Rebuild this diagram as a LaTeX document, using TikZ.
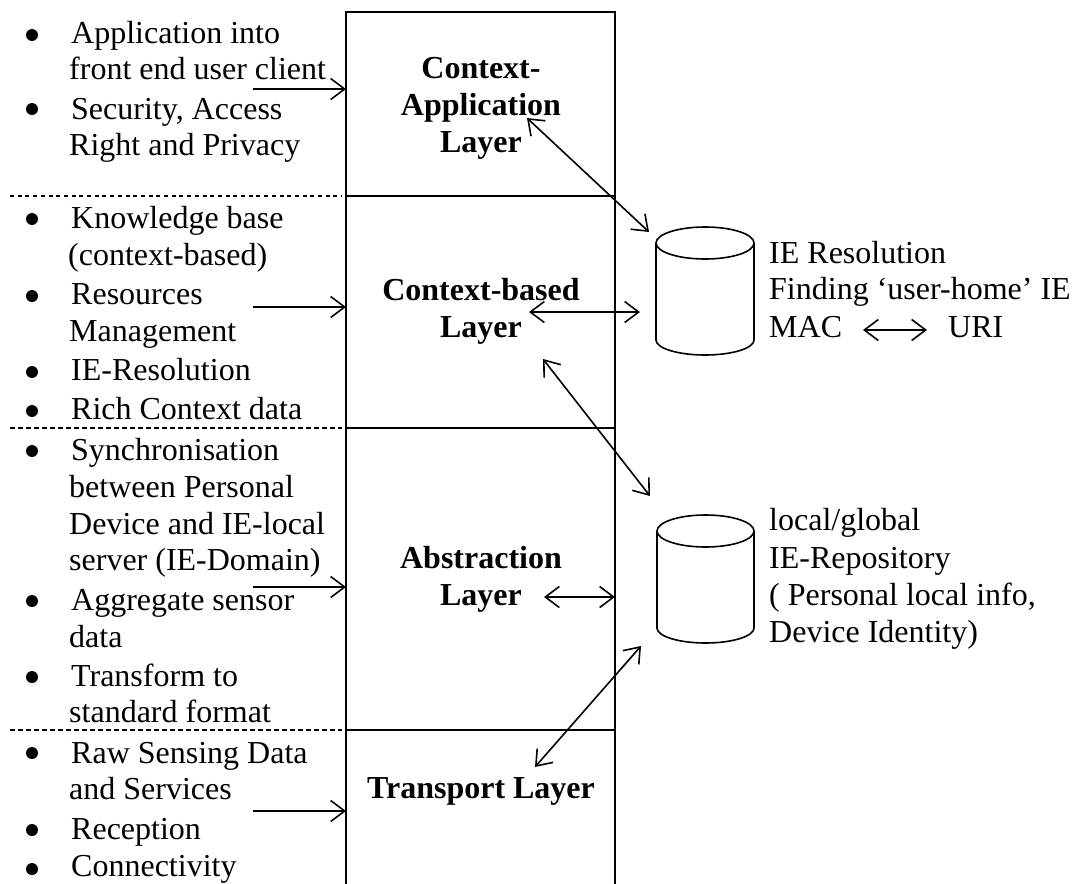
\documentclass[tikz,border=0pt]{standalone}
\usepackage{fontspec}
\setmainfont{Liberation Serif}
\usetikzlibrary{arrows.meta}
\tikzset{
 tx/.style={inner sep=0pt,anchor=base west,font=\fontsize{32pt}{36pt}\selectfont},
 bl/.style={tx,anchor=base,align=center,font=\fontsize{32pt}{36pt}\selectfont\bfseries},
 ln/.style={line width=2.2pt,black},
 cy/.style={line width=1.6pt,black},
 arr/.style={line width=1.6pt,{Straight Barb[length=14pt,width=21pt]}-{Straight Barb[length=14pt,width=21pt]}},
 ar/.style={line width=1.6pt,-{Straight Barb[length=14pt,width=21pt]}},
 dot/.style={circle,fill=black,inner sep=0pt,minimum size=12pt},
 sepa/.style={line width=2.8pt,dash pattern=on 4pt off 3.7pt},
 sep/.style={line width=2pt,dash pattern=on 5pt off 3pt},
}
\begin{document}
\begin{tikzpicture}[x=1pt,y=-1pt]
\useasboundingbox (0,0) rectangle (1072,884);
\fill[white] (0,0) rectangle (1072,884);
% Layers
\coordinate (tl) at (346,12); \coordinate (tr) at (615,12);
\coordinate (bl1) at (346,884); \coordinate (br1) at (615,884);
\draw[ln] (bl1)--(tl)--(tr)--(br1);
\coordinate (a1) at (346,196); \coordinate (a2) at (615,196);
\coordinate (b1) at (346,428); \coordinate (b2) at (615,428);
\coordinate (c1) at (346,730); \coordinate (c2) at (615,730);
\draw[ln] (a1)--(a2); \draw[ln] (b1)--(b2); \draw[ln] (c1)--(c2);
\coordinate (a0) at (10,196); \coordinate (b0) at (10,428); \coordinate (c0) at (10,730);
\coordinate (a9) at (342,196); \coordinate (b9) at (342,428); \coordinate (c9) at (342,730);
\draw[sepa] (a0)--(a9); \draw[sep] (b0)--(b9); \draw[sep] (c0)--(c9);
% Layer labels
\node[bl] (l1a) at (481,78) {Context-};
\node[bl] (l1b) at (481,115) {Application};
\node[bl] (l1c) at (481,152) {Layer};
\node[bl] (l2a) at (481,300) {Context-based};
\node[bl] (l2b) at (481,337) {Layer};
\node[bl] (l3a) at (481,568) {Abstraction};
\node[bl] (l3b) at (481,605) {Layer};
\node[bl] (l4) at (481,798) {Transport Layer};
% Left text
\foreach \n/\x/\y/\t in {
 a/71/43/Application into,
 b/69/79/front end user client,
 c/71/119/{Security, Access},
 d/69/155/Right and Privacy,
 e/71/228/Knowledge base,
 f/68/265/(context-based),
 g/71/304/Resources,
 h/69/341/Management,
 i/71/380/IE-Resolution,
 j/71/419/Rich Context data,
 k/71/460/Synchronisation,
 m/69/497/between Personal,
 n/69/534/Device and IE-local,
 o/69/570/server (IE-Domain),
 p/71/610/Aggregate sensor,
 q/69/647/data,
 r/71/686/Transform to,
 s/69/722/standard format,
 t/71/763/Raw Sensing Data,
 u/69/799/and Services,
 v/71/839/Reception,
 w/71/876/Connectivity}
 {\node[tx] (t\n) at (\x,\y) {\t};}
\foreach \n/\y in {a/35,c/109,e/219,g/296,i/372,j/411,k/451,p/601,r/677,t/753,v/830,w/869}
 {\node[dot] (d\n) at (32,\y) {};}
% Cylinders
\draw[cy] (656,243) arc[x radius=49,y radius=16,start angle=180,end angle=540];
\draw[cy] (656,243)--(656,340) arc[x radius=49,y radius=15,start angle=180,end angle=0]--(754,243);
\draw[cy] (657,531) arc[x radius=48.5,y radius=16,start angle=180,end angle=540];
\draw[cy] (657,531)--(657,628) arc[x radius=48.5,y radius=15,start angle=180,end angle=0]--(754,531);
% right text
\node[tx] (r1) at (769,263) {IE Resolution};
\node[tx] (r2) at (769,299) {Finding ‘user-home’ IE};
\node[tx] (r3) at (769,337) {MAC};
\node[tx] (r4) at (948,337) {URI};
\coordinate (m1) at (863,330); \coordinate (m2) at (927,330);
\draw[arr] (m1)--(m2);
\node[tx] (s1) at (769,530) {local/global};
\node[tx] (s2) at (769,568) {IE-Repository};
\node[tx] (s3) at (769,605) {( Personal local info,};
\node[tx] (s4) at (769,642) {Device Identity)};
% arrows
\coordinate (p1) at (253,89); \coordinate (p1e) at (346,89);
\draw[ar] (p1)--(p1e);
\coordinate (p2) at (253,307); \coordinate (p2e) at (346,307);
\draw[ar] (p2)--(p2e);
\coordinate (p3) at (253,587); \coordinate (p3e) at (346,587);
\draw[ar] (p3)--(p3e);
\coordinate (p4) at (253,811); \coordinate (p4e) at (346,811);
\draw[ar] (p4)--(p4e);
\coordinate (q1) at (527,118); \coordinate (q1e) at (649,232);
\draw[arr] (q1)--(q1e);
\coordinate (q2) at (529,312); \coordinate (q2e) at (640,312);
\draw[arr] (q2)--(q2e);
\coordinate (q3) at (543,359); \coordinate (q3e) at (650,496);
\draw[arr] (q3)--(q3e);
\coordinate (q4) at (544,597); \coordinate (q4e) at (615,597);
\draw[arr] (q4)--(q4e);
\coordinate (q5) at (535,767); \coordinate (q5e) at (641,646);
\draw[arr] (q5)--(q5e);
\end{tikzpicture}
\end{document}
